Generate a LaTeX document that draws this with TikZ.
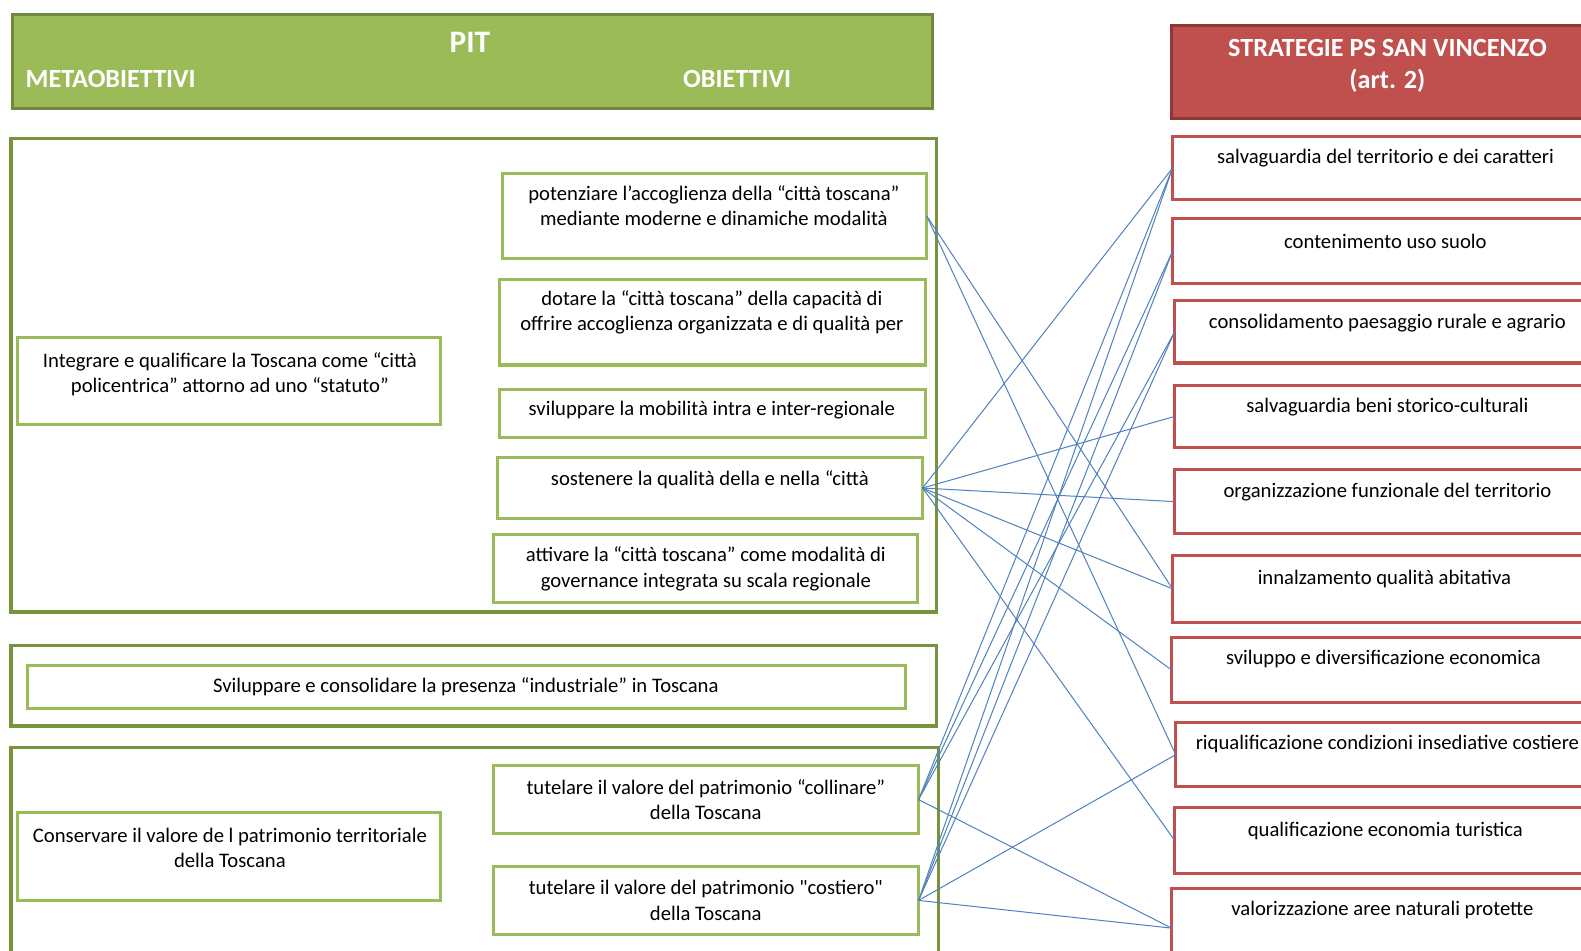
\documentclass[tikz,border=0pt]{standalone}
\usepackage{fontspec}
\setmainfont{Carlito}[Ligatures=TeXOff]
\usetikzlibrary{fit}
\definecolor{hdrgreen}{HTML}{9BBB59}
\definecolor{hdrgreenbd}{HTML}{71893F}
\definecolor{grpgreen}{HTML}{77933C}
\definecolor{boxgreen}{HTML}{9BBB59}
\definecolor{hdrred}{HTML}{C0504D}
\definecolor{hdrredbd}{HTML}{8C3836}
\definecolor{boxred}{HTML}{C0504D}
\definecolor{linkblue}{HTML}{4F81BD}
\begin{document}
\begin{tikzpicture}[x=0.5pt,y=-0.5pt,
  frame/.style={inner sep=0pt, outer sep=0pt},
  hdrg/.style={frame, fill=hdrgreen, draw=hdrgreenbd, line width=1.5pt},
  hdrr/.style={frame, fill=hdrred, draw=hdrredbd, line width=1.5pt},
  grp/.style={frame, draw=grpgreen, line width=1.6pt},
  gbox/.style={frame, draw=boxgreen, line width=1.5pt},
  rbox/.style={frame, draw=boxred, line width=1.5pt},
  txt/.style={inner sep=0pt, align=center, font=\fontsize{10.25}{12.6}\selectfont},
  htxt/.style={inner sep=0pt, align=center, text=white, font=\bfseries\fontsize{13}{16}\selectfont},
  link/.style={draw=linkblue, line width=0.5pt}]
\useasboundingbox (0,0) rectangle (1568,943);
\clip (0,0) rectangle (1568,943);

% headers
\node[hdrg, fit={(12,14) (925,108)}] (hg) {};
\node[htxt, font=\bfseries\fontsize{15.5}{18}\selectfont] (hpit) at (466,42) {PIT};
\node[htxt, anchor=west] (hmeta) at (25,78) {METAOBIETTIVI};
\node[htxt] (hobj) at (731,78) {OBIETTIVI};
\node[hdrr, fit={(1162,25) (1600,118)}] (hr) {};
\node[htxt] (hrt) at (1376,65) {STRATEGIE PS SAN VINCENZO\\(art. 2)};

% group 1
\node[grp, fit={(11,137) (929,607)}] (g1) {};
\node[gbox, fit={(17,335) (437,421)}] (m1) {};
\node[txt] (m1t) at (228,371) {Integrare e qualificare la Toscana come “città\\policentrica” attorno ad uno “statuto”};
\node[gbox, fit={(498,172) (919,256)}] (p1) {};
\node[txt] (p1t) at (708,204) {potenziare l’accoglienza della “città toscana”\\mediante moderne e dinamiche modalità};
\node[gbox, fit={(495,277) (918,362)}] (p2) {};
\node[txt] (p2t) at (706,310) {dotare la “città toscana” della capacità di\\offrire accoglienza organizzata e di qualità per};
\node[gbox, fit={(495,386) (918,434)}] (p3) {};
\node[txt] (p3t) at (706,407) {sviluppare la mobilità intra e inter-regionale};
\node[gbox, fit={(493,454) (915,514)}] (p4) {};
\node[txt] (p4t) at (704,476) {sostenere la qualità della e nella “città};
\node[gbox, fit={(489,530) (910,598)}] (p5) {};
\node[txt] (p5t) at (700,564) {attivare la “città toscana” come modalità di\\governance integrata su scala regionale};

% group 2
\node[grp, fit={(11,640) (929,720)}] (g2) {};
\node[gbox, fit={(27,660) (898,703)}] (m2) {};
\node[txt] (m2t) at (462,681) {Sviluppare e consolidare la presenza “industriale” in Toscana};

% group 3
\node[grp, fit={(11,741) (931,970)}] (g3) {};
\node[gbox, fit={(17,806) (437,893)}] (m3) {};
\node[txt] (m3t) at (228,841) {Conservare il valore de l patrimonio territoriale\\della Toscana};
\node[gbox, fit={(489,759) (911,827)}] (t1) {};
\node[txt] (t1t) at (700,793) {tutelare il valore del patrimonio “collinare”\\della Toscana};
\node[gbox, fit={(489,859) (911,927)}] (t2) {};
\node[txt] (t2t) at (700,893) {tutelare il valore del patrimonio "costiero"\\della Toscana};

% strategies
\node[rbox, fit={(1163,135) (1600,198)}] (r1) {};
\node[txt] (r1t) at (1374,157) {salvaguardia del territorio e dei caratteri};
\node[rbox, fit={(1163,217) (1600,281)}] (r2) {};
\node[txt] (r2t) at (1374,239) {contenimento uso suolo};
\node[rbox, fit={(1165,298) (1600,360)}] (r3) {};
\node[txt] (r3t) at (1376,320) {consolidamento paesaggio rurale e agrario};
\node[rbox, fit={(1165,382) (1600,444)}] (r4) {};
\node[txt] (r4t) at (1376,404) {salvaguardia beni storico-culturali};
\node[rbox, fit={(1165,466) (1600,529)}] (r5) {};
\node[txt] (r5t) at (1376,488) {organizzazione funzionale del territorio};
\node[rbox, fit={(1163,551) (1600,617)}] (r6) {};
\node[txt] (r6t) at (1373,574) {innalzamento qualità abitativa};
\node[rbox, fit={(1162,632) (1600,697)}] (r7) {};
\node[txt] (r7t) at (1372,654) {sviluppo e diversificazione economica};
\node[rbox, fit={(1166,717) (1600,780)}] (r8) {};
\node[txt] (r8t) at (1376,738) {riqualificazione condizioni insediative costiere};
\node[rbox, fit={(1165,801) (1600,866)}] (r9) {};
\node[txt] (r9t) at (1374,824) {qualificazione economia turistica};
\node[rbox, fit={(1162,881) (1600,960)}] (r10) {};
\node[txt] (r10t) at (1371,902) {valorizzazione aree naturali protette};

% connectors
\draw[link] (p1.east) -- (r6.west);
\draw[link] (p1.east) -- (r8.west);
\foreach \r in {r1,r4,r5,r6,r7,r9} \draw[link] (p4.east) -- (\r.west);
\foreach \r in {r1,r2,r3,r10} \draw[link] (t1.east) -- (\r.west);
\foreach \r in {r1,r2,r3,r8,r10} \draw[link] (t2.east) -- (\r.west);
\end{tikzpicture}
\end{document}
